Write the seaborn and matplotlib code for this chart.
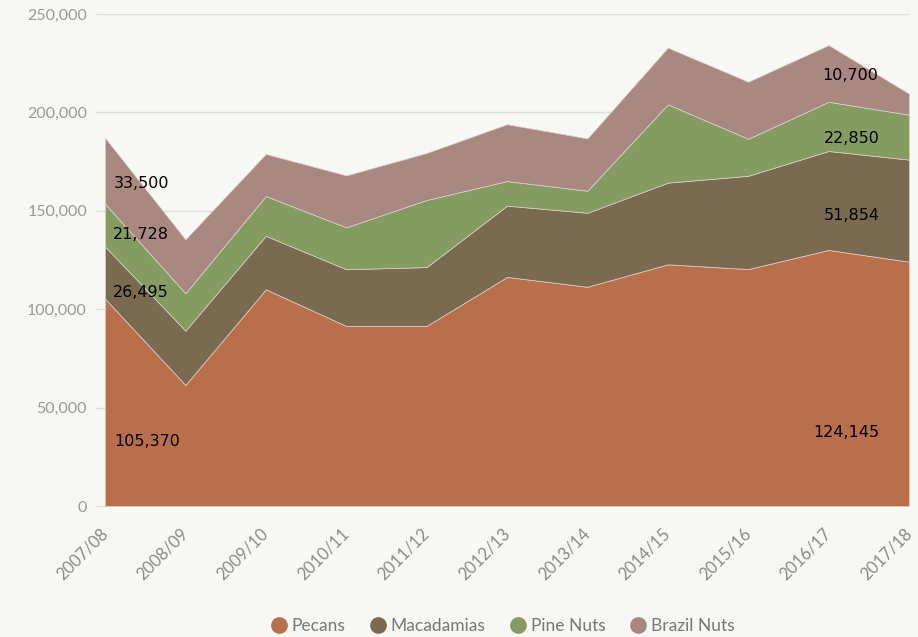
import numpy as np
import pandas as pd
import matplotlib
matplotlib.use("Agg")
import matplotlib.pyplot as plt
import seaborn as sns
from matplotlib.ticker import FuncFormatter
from matplotlib.lines import Line2D

seasons = ["2007/08", "2008/09", "2009/10", "2010/11", "2011/12", "2012/13",
           "2013/14", "2014/15", "2015/16", "2016/17", "2017/18"]
pecans = [105370, 61500, 110100, 91500, 91500, 116400, 111400, 122800, 120400, 130100, 124145]
macadamias = [26495, 27600, 27200, 28800, 29900, 36200, 37600, 41500, 47400, 50300, 51854]
pine_nuts = [21728, 19000, 20200, 21300, 34100, 12500, 11200, 39800, 18800, 25000, 22850]
brazil_nuts = [33500, 27400, 21400, 26400, 23900, 28900, 26600, 28800, 29000, 28800, 10700]
series_names = ["Pecans", "Macadamias", "Pine Nuts", "Brazil Nuts"]
colors = ["#B96E4C", "#7A6A50", "#849B62", "#AA8882"]
y_ticks = [0, 50000, 100000, 150000, 200000, 250000]

# annotation labels: (text, x position in category units, y position in data units)
labels = [
    ("105,370", 0.53, 33000), ("26,495", 0.44, 108500), ("21,728", 0.45, 137800), ("33,500", 0.45, 164000),
    ("124,145", 9.22, 37500), ("51,854", 9.29, 147500), ("22,850", 9.29, 186500), ("10,700", 9.27, 219000),
]

bg = "#F7F7F3"
sns.set_theme(style="white", rc={"axes.facecolor": bg, "figure.facecolor": bg})
plt.rcParams["font.family"] = ["Lato", "DejaVu Sans"]

fig = plt.figure(figsize=(9.18, 6.37), dpi=100)
ax = fig.add_axes([105 / 918, 1 - 506 / 637, (909 - 105) / 918, (506 - 14) / 637])

df = pd.DataFrame({"season": seasons, "Pecans": pecans, "Macadamias": macadamias,
                   "Pine Nuts": pine_nuts, "Brazil Nuts": brazil_nuts})
x = np.arange(len(seasons))
ax.stackplot(x, [df[n] for n in series_names], colors=colors,
             edgecolor="#DCD3C6", linewidth=0.5, zorder=2)

ax.set_xlim(0, len(seasons) - 1)
ax.set_ylim(0, 250000)
ax.set_yticks(y_ticks)
ax.yaxis.set_major_formatter(FuncFormatter(lambda v, p: f"{int(v):,}"))
ax.grid(axis="y", color="#DEDEDA", linewidth=1, zorder=0)
ax.set_axisbelow(True)
for s in ax.spines.values():
    s.set_visible(False)
ax.tick_params(axis="y", length=7, color="#DEDEDA", width=1, labelsize=11.5,
               labelcolor="#999999", pad=6, left=True)
ax.set_xticks(x)
ax.set_xticklabels(seasons, rotation=45, ha="right", va="center", rotation_mode="anchor",
                   fontsize=12, color="#8A8A8A")
ax.tick_params(axis="x", length=0, pad=18)
ax.set_xlabel("")
ax.set_ylabel("")

for txt, lx, ly in labels:
    ax.text(lx, ly, txt, ha="center", va="center", fontsize=11.5, color="black",
            family="DejaVu Sans", zorder=5)

handles = [Line2D([0], [0], marker="o", linestyle="", markersize=11,
                  markerfacecolor=c, markeredgecolor=c) for c in colors]
fig.legend(handles, series_names, loc="center", bbox_to_anchor=(0.547, 1 - 626 / 637),
           ncol=4, frameon=False, fontsize=12.5, labelcolor="#777777",
           handletextpad=0.25, columnspacing=1.35, handlelength=1.0)

fig.savefig("out.png", dpi=100, facecolor=bg)
